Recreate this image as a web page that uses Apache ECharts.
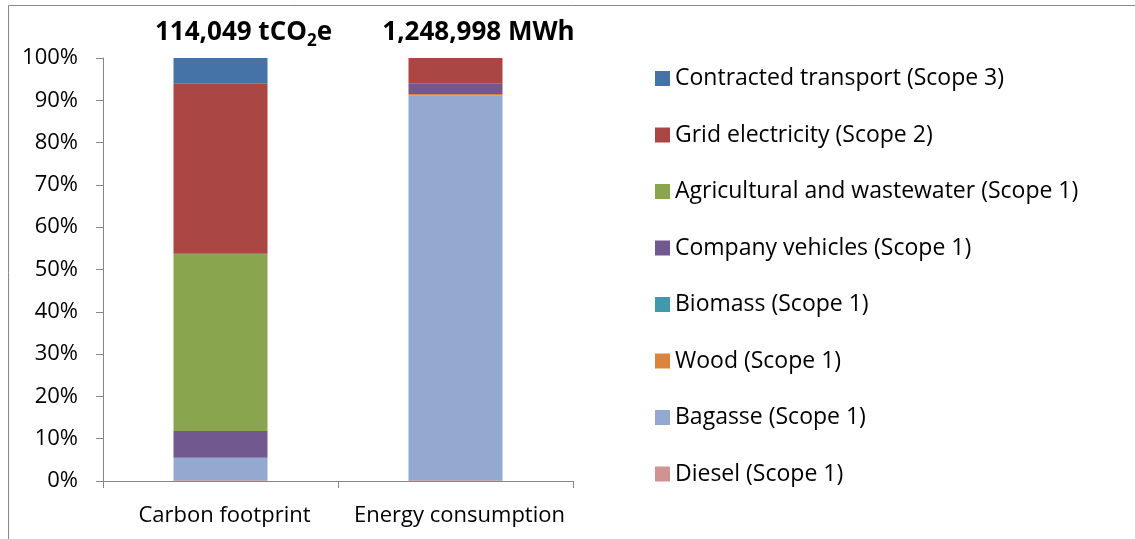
<!DOCTYPE html>
<html>
<head>
<meta charset="utf-8">
<script src="https://cdn.jsdelivr.net/npm/echarts@6/dist/echarts.min.js"></script>
<style>
  html, body { margin: 0; padding: 0; background: #fff; }
  #main { width: 1135px; height: 539px; }
</style>
</head>
<body>
<div id="main"></div>
<script>
  // categories and totals shown above the bars
  var categories = ['Carbon footprint', 'Energy consumption'];
  var totals = ['114,049 tCO2e', '1,248,998 MWh'];

  // share (%) of each source, bottom to top of stack
  var diesel = [0.2, 0.2];
  var bagasse = [5.3, 91.0];
  var wood = [0, 0.3];
  var biomass = [0, 0];
  var companyVehicles = [6.3, 2.4];
  var agricultural = [41.9, 0];
  var gridElectricity = [40.2, 6.1];
  var contractedTransport = [6.1, 0];

  var yTicks = [0, 10, 20, 30, 40, 50, 60, 70, 80, 90, 100];

  var seriesDefs = [
    {name: 'Diesel (Scope 1)', data: diesel, color: '#D19392'},
    {name: 'Bagasse (Scope 1)', data: bagasse, color: '#93A9CF'},
    {name: 'Wood (Scope 1)', data: wood, color: '#DB843D'},
    {name: 'Biomass (Scope 1)', data: biomass, color: '#4198AF'},
    {name: 'Company vehicles (Scope 1)', data: companyVehicles, color: '#71588F'},
    {name: 'Agricultural and wastewater (Scope 1)', data: agricultural, color: '#89A54E'},
    {name: 'Grid electricity (Scope 2)', data: gridElectricity, color: '#AA4643'},
    {name: 'Contracted transport (Scope 3)', data: contractedTransport, color: '#4572A7'}
  ];

  var font = 'Open Sans';
  var chart = echarts.init(document.getElementById('main'));

  var option = {
    animation: false,
    textStyle: { fontFamily: font, color: '#000' },
    graphic: [{
      type: 'rect',
      shape: { x: 8.5, y: 5.5, width: 1140, height: 540 },
      style: { fill: 'none', stroke: '#888', lineWidth: 1 },
      silent: true
    }],
    grid: { left: 103, top: 58, width: 470, bottom: 58, containLabel: false },
    legend: {
      orient: 'vertical',
      left: 650,
      top: 62,
      itemWidth: 15,
      itemHeight: 15,
      itemGap: 33.5,
      icon: 'rect',
      textStyle: { fontFamily: font, fontSize: 23, lineHeight: 23, color: '#000' },
      data: seriesDefs.map(function (s) { return s.name; }).reverse()
    },
    xAxis: [{
      type: 'category',
      data: categories,
      position: 'bottom',
      axisLine: { lineStyle: { color: '#868686' } },
      axisTick: { show: true, length: 7, lineStyle: { color: '#868686' } },
      axisLabel: { fontFamily: font, fontSize: 22, color: '#000', margin: 24, interval: 0, padding: [0, 0, 0, 8] }
    }, {
      type: 'category',
      data: totals,
      position: 'top',
      axisLine: { show: false },
      axisTick: { show: false },
      axisLabel: {
        margin: 8,
        interval: 0,
        padding: [0, 0, 0, 46],
        formatter: function (v) {
          var p = v.split('CO2');
          if (p.length === 2) return '{b|' + p[0] + 'CO}{s|2}{b|' + p[1] + '}';
          return '{b|' + v + '}';
        },
        rich: {
          b: { fontFamily: font, fontSize: 26, fontWeight: 'bold', color: '#000', lineHeight: 30, verticalAlign: 'top' },
          s: { fontFamily: font, fontSize: 17, fontWeight: 'bold', color: '#000', lineHeight: 16, verticalAlign: 'bottom' }
        }
      }
    }],
    yAxis: {
      type: 'value',
      min: yTicks[0],
      max: yTicks[yTicks.length - 1],
      interval: 10,
      axisLine: { show: true, lineStyle: { color: '#868686' } },
      axisTick: { show: true, length: 7, lineStyle: { color: '#868686' } },
      splitLine: { show: false },
      axisLabel: { fontFamily: font, fontSize: 22, color: '#000', margin: 25, formatter: '{value}%' }
    },
    series: seriesDefs.map(function (s) {
      return {
        name: s.name,
        type: 'bar',
        stack: 'total',
        data: s.data,
        barWidth: '40%',
        itemStyle: { color: s.color },
        emphasis: { disabled: true }
      };
    })
  };

  chart.setOption(option);
</script>
</body>
</html>
